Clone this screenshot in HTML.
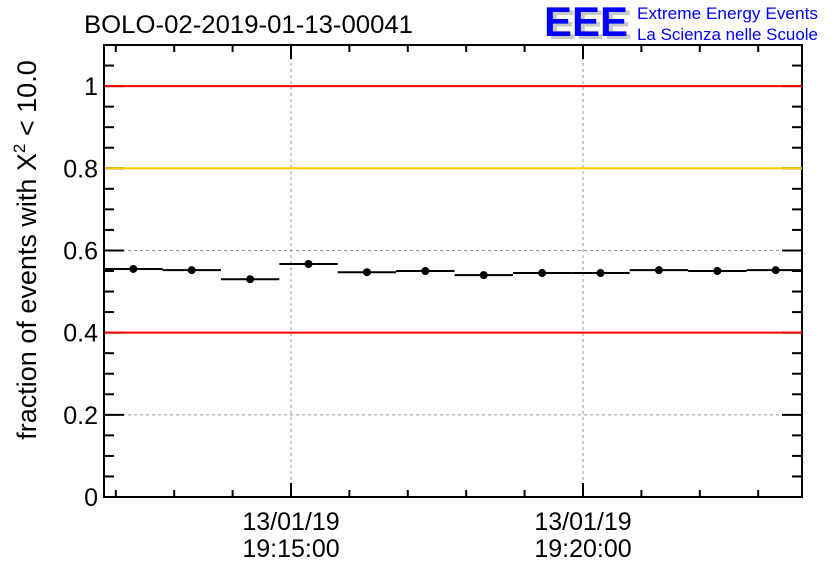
<!DOCTYPE html>
<html><head><meta charset="utf-8"><style>
body{margin:0;background:#fff;width:836px;height:572px;overflow:hidden}
svg{display:block;font-family:"Liberation Sans",sans-serif}
</style></head><body>
<svg id="c" width="836" height="572">
<defs><clipPath id="clip"><rect x="104" y="45" width="698" height="452"/></clipPath></defs>
<text x="84" y="33" font-size="25" textLength="329" lengthAdjust="spacingAndGlyphs">BOLO-02-2019-01-13-00041</text>
<g>
<text x="548" y="39" font-size="42" font-weight="bold" fill="#c8c8c8" textLength="84" lengthAdjust="spacingAndGlyphs">EEE</text>
<text x="544" y="36" font-size="42" font-weight="bold" fill="#0000ff" textLength="84" lengthAdjust="spacingAndGlyphs">EEE</text>
<text x="637" y="19" font-size="17" fill="#0000ff" textLength="181" lengthAdjust="spacingAndGlyphs">Extreme Energy Events</text>
<text x="637" y="40" font-size="17" fill="#0000ff" textLength="181" lengthAdjust="spacingAndGlyphs">La Scienza nelle Scuole</text>
</g>
<g id="plot"></g>
<text transform="translate(36,250) rotate(-90)" text-anchor="middle" font-size="27">fraction of events with X<tspan font-size="17" dy="-11">2</tspan><tspan dy="11"> &lt; 10.0</tspan></text>
</svg>
<script>
const binCenters=[-2.7,-1.7,-0.7,0.3,1.3,2.3,3.3,4.3,5.3,6.3,7.3,8.3]; // minutes from 19:15:00
const values=[0.555,0.552,0.530,0.567,0.547,0.550,0.540,0.545,0.545,0.552,0.550,0.552];
const yTicks=[0,0.2,0.4,0.6,0.8,1];
const yTickLabels=["0","0.2","0.4","0.6","0.8","1"];
const xMajor=[0,5];
const xLabels=[["13/01/19","19:15:00"],["13/01/19","19:20:00"]];
const refLines=[[1,"#ff0000"],[0.8,"#ffcc00"],[0.4,"#ff0000"]];
const L=104,R=802,T=45,B=497,ppm=58.4,x0=291;
const X=m=>x0+m*ppm, Y=v=>B-(v/1.1)*(B-T);
const g=document.getElementById('plot');const ns="http://www.w3.org/2000/svg";
function el(t,a,name){const e=document.createElementNS(ns,t);for(const k in a)e.setAttribute(k,a[k]);


g.appendChild(e);return e;}
yTicks.forEach(v=>{if(v>0&&!refLines.some(r=>r[0]===v))el('line',{x1:L,x2:R,y1:Y(v),y2:Y(v),stroke:'#999','stroke-dasharray':'3,3'},'y-grid-line');});
xMajor.forEach(m=>el('line',{x1:X(m),x2:X(m),y1:T,y2:B,stroke:'#999','stroke-dasharray':'3,3'},'x-grid-line'));
binCenters.forEach((c,i)=>{
el('line',{x1:X(c-0.5),x2:X(c+0.5),y1:Y(values[i]),y2:Y(values[i]),stroke:'#000','stroke-width':2,'clip-path':'url(#clip)'},'bin-bar');
el('circle',{cx:X(c),cy:Y(values[i]),r:4,fill:'#000'},'data-point');});
el('rect',{x:L,y:T,width:R-L,height:B-T,fill:'none',stroke:'#000','stroke-width':2},'plot-frame');
for(let v=0;v<=1.1001;v+=0.05){const major=Math.abs(v*5-Math.round(v*5))<1e-6;const len=major?20:10;
el('line',{x1:L,x2:L+len,y1:Y(v),y2:Y(v),stroke:'#000','stroke-width':2},'y-tick');
el('line',{x1:R,x2:R-len,y1:Y(v),y2:Y(v),stroke:'#000','stroke-width':2},'y-tick-right');}
refLines.forEach(r=>el('line',{x1:L+1,x2:R,y1:Y(r[0]),y2:Y(r[0]),stroke:r[1],'stroke-width':2},'reference-line'));
yTicks.forEach((v,i)=>{const t=el('text',{x:L-6,y:Y(v)+9,'text-anchor':'end','font-size':25},'y-tick-label');t.textContent=yTickLabels[i];});
for(let m=-3;m<=8;m++){const x=X(m);if(x<L||x>R)continue;const major=m%5===0;const len=major?14:7;
el('line',{x1:x,x2:x,y1:B,y2:B-len,stroke:'#000','stroke-width':2},'x-tick');
el('line',{x1:x,x2:x,y1:T,y2:T+len,stroke:'#000','stroke-width':2},'x-tick-top');}
xMajor.forEach((m,i)=>{xLabels[i].forEach((s,j)=>{const t=el('text',{x:X(m),y:530+j*27,'text-anchor':'middle','font-size':25},'x-tick-label');t.textContent=s;});});
</script>
</body></html>
